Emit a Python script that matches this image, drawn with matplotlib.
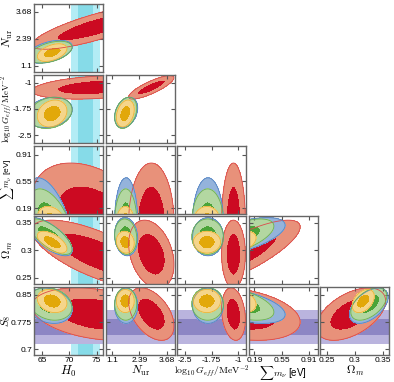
import numpy as np
import matplotlib.pyplot as plt

plt.rcParams['mathtext.fontset'] = 'cm'
plt.rcParams['font.family'] = ['Liberation Sans', 'DejaVu Sans']

# parameter order: H0, Nur, log10 Geff, sum mnu, Omega_m, S8
labels = [r'$H_0$', r'$N_{\rm ur}$', r'$\log_{10}G_{eff}/{\rm MeV}^{-2}$',
          r'$\sum m_\nu$ [eV]', r'$\Omega_m$', r'$S_8$']
label_size = [9, 8.5, 7, 7, 8.5, 8.5]
ylabel_size = [9, 8.5, 6.3, 6.0, 8.5, 8.2]
ylabel_x = [-0.28, -0.28, -0.28, -0.265, -0.28, -0.31]
limits = [(63.45, 76.2), (0.79, 4.05), (-2.72, -0.77),
          (0.115, 1.03), (0.238, 0.362), (0.684, 0.871)]
ticks = [[65, 70, 75], [1.1, 2.39, 3.68], [-2.5, -1.75, -1],
         [0.19, 0.55, 0.91], [0.25, 0.3, 0.35], [0.7, 0.775, 0.85]]
tick_labels = [['65', '70', '75'], ['1.1', '2.39', '3.68'], ['-2.5', '-1.75', '-1'],
               ['0.19', '0.55', '0.91'], ['0.25', '0.3', '0.35'], ['0.7', '0.775', '0.85']]

# gaussian summaries of each chain
red_mean = [75.0, 2.95, -1.13, 0.0, 0.293, 0.797]
red_sigma = [4.8, 0.43, 0.135, 0.32, 0.025, 0.029]
blue_mean = [66.3, 1.76, -1.85, 0.0, 0.325, 0.82]
blue_sigma = [1.7, 0.22, 0.175, 0.24, 0.014, 0.0195]
green_mean = [66.5, 1.74, -1.86, 0.0, 0.325, 0.825]
green_sigma = [1.6, 0.21, 0.18, 0.18, 0.013, 0.018]
yellow_mean = [66.8, 1.72, -1.88, 0.0, 0.315, 0.833]
yellow_sigma = [1.1, 0.17, 0.155, 0.085, 0.008, 0.0128]

# correlations, panel order (row param, col param)
pairs = [(1, 0), (2, 0), (2, 1), (3, 0), (3, 1), (3, 2), (4, 0), (4, 1), (4, 2), (4, 3),
         (5, 0), (5, 1), (5, 2), (5, 3), (5, 4)]
red_corr = [0.8, 0.3, 0.82, -0.4, 0.0, 0.0, -0.7, -0.3, 0.0, 0.8, -0.3, -0.45, -0.2, -0.3, 0.5]
blue_corr = [0.45, 0.2, 0.3, -0.5, 0.0, 0.0, -0.7, -0.1, 0.0, 0.6, -0.2, 0.0, 0.0, -0.5, 0.5]
green_corr = [0.45, 0.2, 0.3, -0.5, 0.0, 0.0, -0.7, -0.1, 0.0, 0.6, -0.2, 0.0, 0.0, -0.5, 0.5]
yellow_corr = [0.45, 0.2, 0.3, -0.3, 0.0, 0.0, -0.6, -0.1, 0.0, 0.4, -0.2, 0.0, 0.0, -0.3, 0.4]

# external priors
h0_center, h0_sig = 73.0, [1.4, 2.7]
s8_center, s8_sig = 0.761, [0.022, 0.046]

chains = [
    (red_mean, red_sigma, red_corr, '#cc0a22', '#e8917a', '#dc4a4a'),
    (blue_mean, blue_sigma, blue_corr, '#7a9fd0', '#94b3db', '#5585c4'),
    (green_mean, green_sigma, green_corr, '#4ba438', '#b3d7a1', '#6aae55'),
    (yellow_mean, yellow_sigma, yellow_corr, '#e2a80a', '#f5d58a', '#e9b53a'),
]

fig = plt.figure(figsize=(3.94, 3.82), dpi=100)
W, H = 394, 382


def draw_gauss(ax, mx, my, sx, sy, rho, dark, light, edge, xl, yl):
    x = np.linspace(xl[0], xl[1], 220)
    y = np.linspace(yl[0], yl[1], 220)
    X, Y = np.meshgrid(x, y)
    u = (X - mx) / sx
    v = (Y - my) / sy
    d2 = (u * u - 2 * rho * u * v + v * v) / (1 - rho ** 2)
    ax.contourf(X, Y, d2, levels=[0, 2.30, 6.18], colors=[dark, light])
    ax.contour(X, Y, d2, levels=[6.18], colors=[edge], linewidths=0.6)


for k, (pi, pj) in enumerate(pairs):
    i = pi - 1
    j = pj
    ax = fig.add_axes([(34 + 71.6 * j) / W, 1 - (4 + 70.8 * i + 68) / H, 69 / W, 68 / H])
    xl, yl = limits[pj], limits[pi]
    if j == 0:
        ax.axvspan(h0_center - h0_sig[1], h0_center + h0_sig[1], color='#b3ecf5', lw=0)
        ax.axvspan(h0_center - h0_sig[0], h0_center + h0_sig[0], color='#86dbe8', lw=0)
    if pi == 5:
        ax.axhspan(s8_center - s8_sig[1], s8_center + s8_sig[1], color='#bab4de', lw=0)
        ax.axhspan(s8_center - s8_sig[0], s8_center + s8_sig[0], color='#8d86c4', lw=0)
    for mean, sig, corr, dark, light, edge in chains:
        draw_gauss(ax, mean[pj], mean[pi], sig[pj], sig[pi], corr[k],
                   dark, light, edge, xl, yl)
    ax.set_xlim(xl)
    ax.set_ylim(yl)
    ax.set_xticks(ticks[pj])
    ax.set_yticks(ticks[pi])
    ax.tick_params(direction='in', length=3, width=0.8, color='#555555',
                   top=True, right=True, labelsize=6, pad=1.5)
    for s in ax.spines.values():
        s.set_color('#666666')
        s.set_linewidth(1.0)
    if j == 0:
        ax.set_yticklabels(tick_labels[pi])
        ax.set_ylabel(labels[pi], fontsize=ylabel_size[pi])
        ax.yaxis.set_label_coords(ylabel_x[pi], 0.5)
    else:
        ax.set_yticklabels([])
    if pi == 5:
        ax.set_xticklabels(tick_labels[pj])
        ax.set_xlabel(labels[pj], fontsize=label_size[pj], labelpad=-0.5)
    else:
        ax.set_xticklabels([])

fig.savefig('out.png', dpi=100)
